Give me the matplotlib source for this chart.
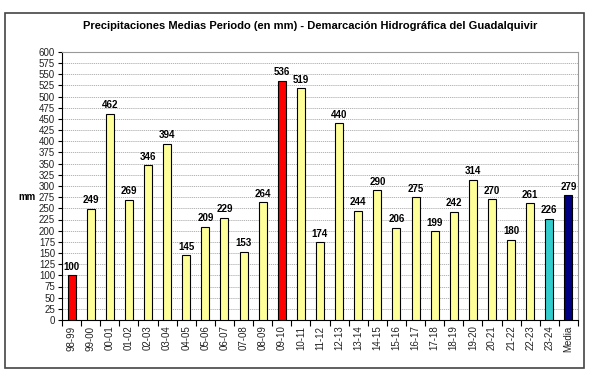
import matplotlib
matplotlib.use("Agg")
import matplotlib.pyplot as plt
from matplotlib.patches import Rectangle
import numpy as np

plt.rcParams['font.family'] = ['Liberation Sans', 'DejaVu Sans']

categories = ["98-99", "99-00", "00-01", "01-02", "02-03", "03-04", "04-05", "05-06",
              "06-07", "07-08", "08-09", "09-10", "10-11", "11-12", "12-13", "13-14",
              "14-15", "15-16", "16-17", "17-18", "18-19", "19-20", "20-21", "21-22",
              "22-23", "23-24", "Media"]
values = [100, 249, 462, 269, 346, 394, 145, 209, 229, 153, 264, 536, 519, 174, 440,
          244, 290, 206, 275, 199, 242, 314, 270, 180, 261, 226, 279]

YELLOW = "#FFFF99"
RED = "#FF0000"
TEAL = "#33CCCC"
NAVY = "#000080"
colors = []
for c, v in zip(categories, values):
    if c == "Media":
        colors.append(NAVY)
    elif c == "23-24":
        colors.append(TEAL)
    elif c in ("98-99", "09-10"):
        colors.append(RED)
    else:
        colors.append(YELLOW)

W, H = 592, 380
fig = plt.figure(figsize=(W / 100, H / 100), dpi=100)
fig.patch.set_facecolor("white")

# outer frame
frame = Rectangle((5 / W, 1 - 368 / H), 579 / W, 355 / H, transform=fig.transFigure,
                  fill=False, edgecolor="#444444", linewidth=1.2)
fig.add_artist(frame)

left, right, top, bottom = 62, 578, 52, 320
ax = fig.add_axes([left / W, 1 - bottom / H, (right - left) / W, (bottom - top) / H])

x = np.arange(len(categories))
ax.bar(x, values, width=0.42, color=colors, edgecolor="black", linewidth=0.8, zorder=3)
for xi, v in zip(x, values):
    ax.text(xi, v + 8, str(v), ha="center", va="bottom", fontsize=7, fontweight="bold", zorder=4)

ax.set_xlim(-0.5, len(categories) - 0.5)
ax.set_ylim(0, 600)
ax.set_yticks(np.arange(0, 601, 25))
ax.tick_params(axis="y", labelsize=7, length=3, width=0.8, pad=2, colors="black",
               labelcolor="#222222")
ax.yaxis.grid(True, color="#A8A8A8", linestyle=(0, (1.5, 1)), linewidth=0.6, zorder=0)

ax.set_xticks(x)
ax.set_xticklabels(categories, rotation=90, fontsize=7, color="#222222")
ax.tick_params(axis="x", length=0, pad=4)
ax.set_xticks(np.arange(-0.5, len(categories), 1), minor=True)
ax.tick_params(axis="x", which="minor", length=4, width=0.8)

for s in ("top", "right"):
    ax.spines[s].set_color("#999999")
    ax.spines[s].set_linewidth(0.8)
ax.spines["left"].set_color("black")
ax.spines["bottom"].set_color("black")

fig.text(18 / W, 1 - 197 / H, "mm", fontsize=7, fontweight="bold", ha="left", va="center")
fig.text(310 / W, 1 - 26 / H,
         "Precipitaciones Medias Periodo (en mm) - Demarcación Hidrográfica del Guadalquivir",
         fontsize=8, fontweight="bold", ha="center", va="center")

fig.savefig("out.png", dpi=100)
